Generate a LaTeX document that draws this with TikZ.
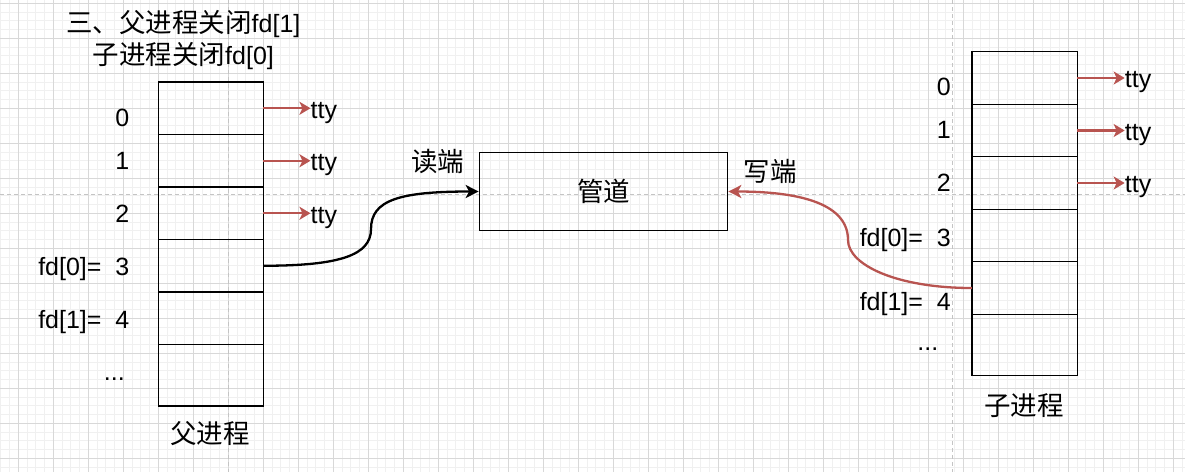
\documentclass[tikz,border=0pt]{standalone}
\usepackage{fontspec}
\setmainfont{Liberation Sans}
\newfontfamily\cjk[Scale=1.06]{Noto Sans CJK SC}
\usepackage{tikz}
\usetikzlibrary{positioning,arrows.meta}
\usepackage{xcolor}
\definecolor{gridminor}{HTML}{F0F0F0}
\definecolor{gridmajor}{HTML}{D8D8D8}
\definecolor{pagebreak}{HTML}{C4C4C4}
\definecolor{ttyred}{HTML}{B85450}

\begin{document}
\begin{tikzpicture}[x=1pt, y=-1pt, font=\fontsize{25}{32}\selectfont,
  cell/.style={draw, line width=1.3pt, minimum width=105.3pt, minimum height=52.5pt, inner sep=0pt, outer sep=0pt},
  lbl/.style={inner sep=0pt, anchor=base east},
  ttylbl/.style={inner sep=0pt, anchor=base west},
  ttyarrow/.style={ttyred, line width=2.2pt, -{Stealth[length=11pt, width=13pt, inset=3pt]}},
  pipearrow/.style={line width=2.3pt, -{Stealth[length=13pt, width=13pt, inset=3.5pt]}}]

  % Page and grid (1 unit = 1 px of the canvas)
  \fill[white] (0,0) rectangle (1185,472);
  \useasboundingbox (0,0) rectangle (1185,472);
  \foreach \k in {-2,...,133} {
    \draw[gridminor, line width=1pt] ({18.33+8.75*\k},0) -- ++(0,472);
  }
  \foreach \k in {0,...,53} {
    \draw[gridminor, line width=1pt] (0,{3.33+8.75*\k}) -- ++(1185,0);
  }
  \foreach \k in {0,...,33} {
    \draw[gridmajor, line width=1pt] ({18.33+35*\k},0) -- ++(0,472);
  }
  \foreach \k in {0,...,13} {
    \draw[gridmajor, line width=1pt] (0,{3.33+35*\k}) -- ++(1185,0);
  }

  % Page breaks
  \draw[pagebreak, line width=1.3pt, dash pattern=on 4pt off 3pt] (228.3,0) -- (228.3,472);
  \draw[pagebreak, line width=1.3pt, dash pattern=on 4pt off 3pt] (952.7,0) -- (952.7,472);
  \draw[pagebreak, line width=1.3pt, dash pattern=on 4pt off 3pt] (0,194.5) -- (1185,194.5);

  % Title
  \node[align=center] (title) at (183.3,40.3) {{\cjk 三、父进程关闭}fd[1]\\{\cjk 子进程关闭}fd[0]};

  % Parent fd table
  \foreach \i in {0,...,4} {
    \node[cell] (p\i) at (210.8,{108.25+52.5*\i}) {};
  }
  \node[cell, minimum height=61.5pt, below=0pt of p4] (p5) {};
  \node (pcap) at (210,433.3) {\cjk 父进程};

  \foreach \i/\y/\lab in {0/126.7/0, 1/169.3/1, 2/222.7/2, 3/275/{fd[0]=\ \ 3}, 4/328.3/{fd[1]=\ \ 4}} {
    \node[lbl] (pl\i) at (129.5,\y) {\lab};
  }
  \node[lbl] (pl5) at (125,380.7) {...};

  \foreach \i in {0,1,2} {
    \node[ttylbl] (pt\i) at ([xshift=47pt, yshift=-10pt]p\i.east) {tty};
    \draw[ttyarrow] (p\i.east) -- (p\i.east -| pt\i.west);
  }

  % Child fd table
  \foreach \i in {0,...,4} {
    \node[cell] (c\i) at (1024.5,{78+52.5*\i}) {};
  }
  \node[cell, minimum height=61.5pt, below=0pt of c4] (c5) {};
  \node (ccap) at (1023.8,405.8) {\cjk 子进程};

  \foreach \i/\y/\lab in {0/95/0, 1/138.3/1, 2/191.7/2, 3/246/{fd[0]=\ \ 3}, 4/310/{fd[1]=\ \ 4}} {
    \node[lbl] (cl\i) at (951,\y) {\lab};
  }
  \node[lbl] (cl5) at (938.5,350.7) {...};

  \foreach \i in {0,1,2} {
    \node[ttylbl] (ct\i) at ([xshift=47.5pt, yshift=-9.5pt]c\i.east) {tty};
    \draw[ttyarrow] (c\i.east) -- (c\i.east -| ct\i.west);
  }

  % Pipe
  \node[draw, line width=1.3pt, minimum width=248.4pt, minimum height=78.4pt, inner sep=0pt] (pipe) at (603.5,191.5) {\cjk 管道};
  \node (rdend) at (437.5,161.5) {\cjk 读端};
  \node (wrend) at (770,171) {\cjk 写端};

  % Read end: parent fd[0] -> pipe
  \coordinate (rmid) at (371,229);
  \draw[pipearrow] (p3.east) .. controls +(77,0) and +(0,26) .. (rmid)
    .. controls +(0,-29) and +(-79,0) .. (pipe.west);

  % Write end: child fd[1] -> pipe
  \coordinate (wmid) at (848,240);
  \draw[pipearrow, ttyred] (c4.west) .. controls +(-75,0) and +(0,25) .. (wmid)
    .. controls +(0,-35) and +(75,0) .. (pipe.east);
\end{tikzpicture}
\end{document}
